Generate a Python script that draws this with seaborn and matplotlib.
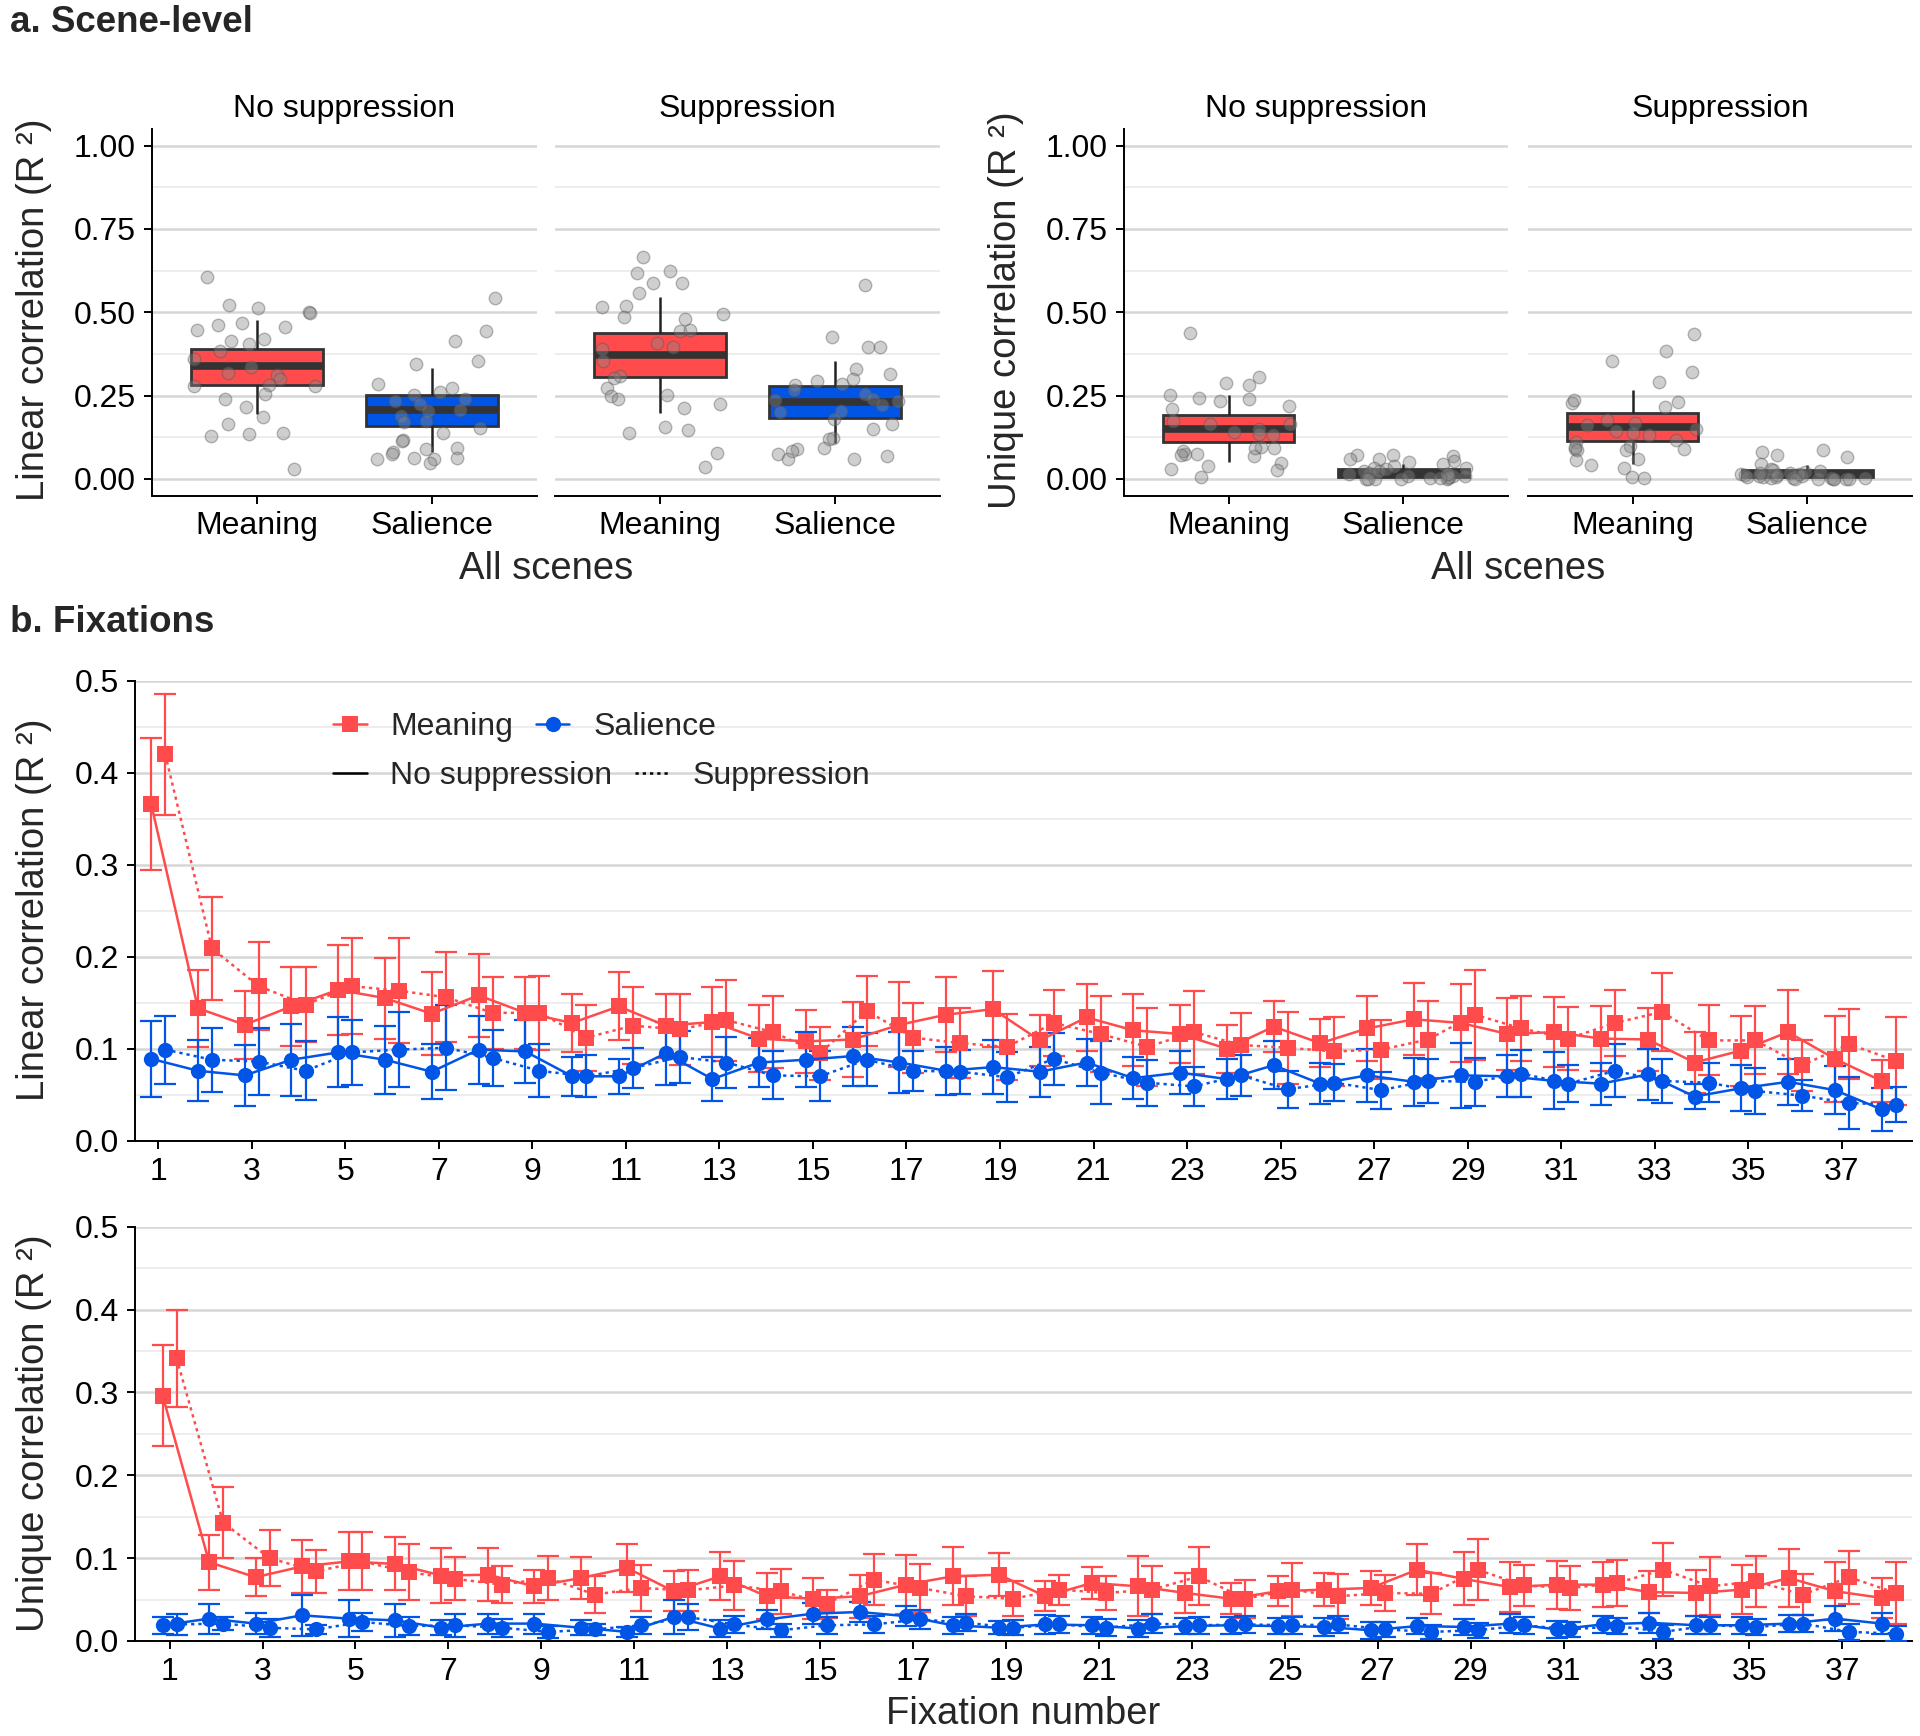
import numpy as np
import pandas as pd
import matplotlib
matplotlib.use("Agg")
import matplotlib.pyplot as plt
from matplotlib.lines import Line2D
import seaborn as sns

sns.set_theme(style="white")
plt.rcParams["font.family"] = ["Liberation Sans", "DejaVu Sans"]

RED = "#FF4B4B"
BLUE = "#0055E6"
features = ["Meaning", "Salience"]
conditions = ["No suppression", "Suppression"]

# ---------------- scene-level: box statistics [low whisker, Q1, median, Q3, high whisker]
lin_box_meaning_ns = [0.196, 0.283, 0.338, 0.390, 0.477]
lin_box_salience_ns = [0.081, 0.159, 0.206, 0.253, 0.332]
lin_box_meaning_s = [0.197, 0.307, 0.373, 0.438, 0.547]
lin_box_salience_s = [0.109, 0.184, 0.231, 0.278, 0.355]
uni_box_meaning_ns = [0.051, 0.112, 0.151, 0.191, 0.251]
uni_box_salience_ns = [0.004, 0.007, 0.017, 0.031, 0.044]
uni_box_meaning_s = [0.046, 0.114, 0.157, 0.197, 0.267]
uni_box_salience_s = [0.002, 0.006, 0.016, 0.028, 0.041]

# ---------------- scene-level: individual scene points
lin_meaning_ns_pts = [0.420, 0.455, 0.523, 0.513, 0.500, 0.498, 0.607, 0.463, 0.447, 0.405, 0.360, 0.335, 0.313, 0.317, 0.300,
                      0.283, 0.280, 0.255, 0.241, 0.217, 0.164, 0.137, 0.134, 0.129, 0.186, 0.029, 0.415, 0.385, 0.467, 0.280]
lin_salience_ns_pts = [0.543, 0.413, 0.443, 0.355, 0.345, 0.285, 0.273, 0.262, 0.253, 0.234, 0.224, 0.204, 0.189, 0.172, 0.174,
                       0.154, 0.137, 0.117, 0.114, 0.089, 0.082, 0.074, 0.061, 0.061, 0.049, 0.062, 0.206, 0.239, 0.094, 0.064]
lin_meaning_s_pts = [0.665, 0.587, 0.557, 0.623, 0.617, 0.587, 0.515, 0.520, 0.495, 0.485, 0.480, 0.445, 0.447, 0.407, 0.397,
                     0.390, 0.353, 0.310, 0.302, 0.273, 0.250, 0.253, 0.241, 0.226, 0.214, 0.156, 0.146, 0.139, 0.079, 0.036]
lin_salience_s_pts = [0.583, 0.427, 0.395, 0.397, 0.330, 0.315, 0.300, 0.295, 0.285, 0.282, 0.268, 0.255, 0.239, 0.234, 0.222,
                      0.204, 0.201, 0.179, 0.164, 0.149, 0.122, 0.119, 0.089, 0.084, 0.076, 0.069, 0.061, 0.061, 0.092, 0.236]
uni_meaning_ns_pts = [0.438, 0.305, 0.283, 0.287, 0.244, 0.239, 0.219, 0.234, 0.209, 0.253, 0.174, 0.164, 0.142, 0.131, 0.076,
                      0.074, 0.069, 0.049, 0.039, 0.029, 0.026, 0.006, 0.097, 0.084, 0.092, 0.094, 0.149, 0.166, 0.134, 0.072]
uni_salience_ns_pts = [0.061, 0.072, 0.069, 0.072, 0.054, 0.044, 0.034, 0.029, 0.024, 0.019, 0.014, 0.009, 0.004, 0.000, 0.001,
                       0.004, 0.009, 0.014, 0.000, 0.001, 0.006, 0.024, 0.032, 0.039, 0.052, 0.059, 0.016, 0.010, 0.002, 0.000]
uni_meaning_s_pts = [0.435, 0.383, 0.355, 0.320, 0.290, 0.231, 0.229, 0.236, 0.216, 0.176, 0.169, 0.162, 0.149, 0.137, 0.116,
                     0.112, 0.099, 0.089, 0.091, 0.087, 0.097, 0.086, 0.061, 0.056, 0.041, 0.034, 0.006, 0.004, 0.131, 0.144]
uni_salience_s_pts = [0.087, 0.082, 0.072, 0.066, 0.044, 0.031, 0.026, 0.022, 0.016, 0.012, 0.009, 0.006, 0.002, 0.000, 0.000,
                      0.001, 0.004, 0.007, 0.014, 0.019, 0.024, 0.009, 0.002, 0.000, 0.005, 0.000, 0.003, 0.013, 0.017, 0.000]

# ---------------- fixations
fixation = list(range(1, 39))
fix_tick_labels = [str(i) for i in range(1, 38, 2)]

lin_meaning_ns = [0.366, 0.144, 0.126, 0.146, 0.164, 0.155, 0.138, 0.158, 0.139, 0.128, 0.146, 0.125, 0.129, 0.111, 0.108,
                  0.110, 0.126, 0.137, 0.143, 0.109, 0.134, 0.120, 0.116, 0.100, 0.124, 0.106, 0.122, 0.132, 0.128, 0.116,
                  0.118, 0.111, 0.110, 0.085, 0.098, 0.118, 0.089, 0.065]
lin_meaning_ns_err = [0.072, 0.042, 0.037, 0.043, 0.049, 0.044, 0.045, 0.045, 0.039, 0.032, 0.037, 0.035, 0.038, 0.036, 0.034,
                      0.041, 0.046, 0.041, 0.041, 0.028, 0.036, 0.039, 0.031, 0.026, 0.028, 0.026, 0.035, 0.039, 0.042, 0.039,
                      0.038, 0.035, 0.034, 0.033, 0.038, 0.046, 0.047, 0.023]
lin_meaning_s = [0.420, 0.209, 0.168, 0.148, 0.168, 0.163, 0.156, 0.139, 0.139, 0.112, 0.125, 0.121, 0.131, 0.118, 0.095,
                 0.141, 0.112, 0.106, 0.102, 0.128, 0.116, 0.102, 0.118, 0.104, 0.101, 0.097, 0.099, 0.110, 0.137, 0.122,
                 0.111, 0.128, 0.140, 0.109, 0.109, 0.082, 0.105, 0.087]
lin_meaning_s_err = [0.066, 0.056, 0.048, 0.041, 0.052, 0.057, 0.049, 0.039, 0.040, 0.036, 0.042, 0.039, 0.044, 0.039, 0.029,
                     0.038, 0.038, 0.038, 0.036, 0.036, 0.041, 0.042, 0.045, 0.035, 0.039, 0.037, 0.032, 0.042, 0.049, 0.035,
                     0.034, 0.036, 0.042, 0.038, 0.037, 0.028, 0.038, 0.048]
lin_salience_ns = [0.089, 0.076, 0.071, 0.088, 0.096, 0.088, 0.075, 0.099, 0.097, 0.070, 0.070, 0.095, 0.067, 0.085, 0.088,
                   0.092, 0.085, 0.076, 0.080, 0.075, 0.085, 0.068, 0.074, 0.067, 0.082, 0.062, 0.071, 0.064, 0.071, 0.070,
                   0.065, 0.062, 0.072, 0.048, 0.057, 0.064, 0.055, 0.034]
lin_salience_ns_err = [0.041, 0.033, 0.033, 0.039, 0.038, 0.037, 0.030, 0.037, 0.034, 0.021, 0.019, 0.034, 0.024, 0.027, 0.030,
                       0.032, 0.033, 0.026, 0.029, 0.027, 0.026, 0.023, 0.023, 0.022, 0.026, 0.022, 0.029, 0.026, 0.035, 0.023,
                       0.031, 0.023, 0.028, 0.014, 0.025, 0.025, 0.026, 0.023]
lin_salience_s = [0.099, 0.088, 0.086, 0.076, 0.096, 0.099, 0.101, 0.090, 0.076, 0.070, 0.079, 0.091, 0.085, 0.071, 0.070,
                  0.088, 0.076, 0.075, 0.069, 0.089, 0.074, 0.063, 0.059, 0.071, 0.056, 0.063, 0.055, 0.065, 0.064, 0.073,
                  0.062, 0.076, 0.065, 0.063, 0.054, 0.049, 0.041, 0.039]
lin_salience_s_err = [0.037, 0.035, 0.036, 0.032, 0.035, 0.041, 0.046, 0.030, 0.029, 0.023, 0.022, 0.028, 0.028, 0.026, 0.027,
                      0.029, 0.022, 0.024, 0.027, 0.028, 0.034, 0.025, 0.021, 0.022, 0.020, 0.020, 0.020, 0.024, 0.026, 0.026,
                      0.020, 0.029, 0.024, 0.021, 0.025, 0.017, 0.028, 0.019]

uni_meaning_ns = [0.296, 0.095, 0.077, 0.090, 0.096, 0.093, 0.079, 0.080, 0.066, 0.076, 0.088, 0.060, 0.078, 0.054, 0.051,
                  0.054, 0.068, 0.078, 0.080, 0.054, 0.070, 0.066, 0.058, 0.051, 0.060, 0.062, 0.064, 0.086, 0.075, 0.065,
                  0.068, 0.068, 0.059, 0.058, 0.062, 0.076, 0.060, 0.052]
uni_meaning_ns_err = [0.061, 0.033, 0.023, 0.032, 0.035, 0.032, 0.033, 0.032, 0.020, 0.025, 0.029, 0.024, 0.029, 0.028, 0.025,
                      0.026, 0.036, 0.035, 0.026, 0.018, 0.019, 0.036, 0.024, 0.019, 0.018, 0.020, 0.021, 0.031, 0.032, 0.030,
                      0.029, 0.027, 0.025, 0.028, 0.030, 0.035, 0.035, 0.024]
uni_meaning_s = [0.341, 0.143, 0.100, 0.084, 0.096, 0.083, 0.075, 0.068, 0.076, 0.056, 0.064, 0.061, 0.067, 0.060, 0.045,
                 0.074, 0.064, 0.054, 0.051, 0.062, 0.058, 0.062, 0.078, 0.051, 0.062, 0.054, 0.058, 0.057, 0.086, 0.067,
                 0.064, 0.070, 0.086, 0.066, 0.072, 0.056, 0.077, 0.058]
uni_meaning_s_err = [0.058, 0.043, 0.034, 0.026, 0.035, 0.034, 0.026, 0.022, 0.026, 0.022, 0.028, 0.025, 0.030, 0.027, 0.017,
                     0.031, 0.029, 0.024, 0.021, 0.018, 0.020, 0.029, 0.035, 0.023, 0.032, 0.027, 0.022, 0.025, 0.037, 0.025,
                     0.027, 0.028, 0.032, 0.035, 0.031, 0.025, 0.032, 0.037]
uni_salience_ns = [0.019, 0.027, 0.021, 0.031, 0.027, 0.025, 0.016, 0.021, 0.021, 0.016, 0.011, 0.029, 0.015, 0.026, 0.033,
                   0.035, 0.030, 0.019, 0.016, 0.020, 0.019, 0.015, 0.018, 0.019, 0.018, 0.017, 0.013, 0.018, 0.017, 0.021,
                   0.014, 0.020, 0.022, 0.019, 0.019, 0.021, 0.027, 0.021]
uni_salience_ns_err = [0.010, 0.018, 0.013, 0.025, 0.022, 0.020, 0.009, 0.012, 0.012, 0.009, 0.006, 0.020, 0.010, 0.012, 0.013,
                       0.012, 0.012, 0.010, 0.008, 0.011, 0.010, 0.010, 0.010, 0.010, 0.010, 0.011, 0.010, 0.010, 0.010, 0.011,
                       0.010, 0.010, 0.012, 0.011, 0.010, 0.010, 0.015, 0.013]
uni_salience_s = [0.020, 0.021, 0.016, 0.014, 0.023, 0.018, 0.019, 0.016, 0.011, 0.014, 0.019, 0.029, 0.020, 0.013, 0.019,
                  0.020, 0.026, 0.022, 0.016, 0.020, 0.016, 0.021, 0.019, 0.020, 0.019, 0.020, 0.014, 0.011, 0.013, 0.019,
                  0.014, 0.018, 0.011, 0.019, 0.017, 0.021, 0.011, 0.009]
uni_salience_s_err = [0.013, 0.008, 0.011, 0.005, 0.011, 0.011, 0.014, 0.011, 0.007, 0.007, 0.010, 0.016, 0.010, 0.008, 0.010,
                      0.010, 0.012, 0.010, 0.009, 0.010, 0.010, 0.011, 0.010, 0.010, 0.010, 0.010, 0.009, 0.008, 0.009, 0.010,
                      0.009, 0.010, 0.008, 0.010, 0.010, 0.010, 0.010, 0.009]

# ---------------- build tables
def scene_frames(boxes, pts):
    brows, prows = [], []
    for (cond, feat), vals in boxes.items():
        for v in vals:
            brows.append(dict(condition=cond, feature=feat, value=v))
    for (cond, feat), vals in pts.items():
        for v in vals:
            prows.append(dict(condition=cond, feature=feat, value=v))
    return pd.DataFrame(brows), pd.DataFrame(prows)

lin_box_df, lin_pts_df = scene_frames(
    {("No suppression", "Meaning"): lin_box_meaning_ns, ("No suppression", "Salience"): lin_box_salience_ns,
     ("Suppression", "Meaning"): lin_box_meaning_s, ("Suppression", "Salience"): lin_box_salience_s},
    {("No suppression", "Meaning"): lin_meaning_ns_pts, ("No suppression", "Salience"): lin_salience_ns_pts,
     ("Suppression", "Meaning"): lin_meaning_s_pts, ("Suppression", "Salience"): lin_salience_s_pts})
uni_box_df, uni_pts_df = scene_frames(
    {("No suppression", "Meaning"): uni_box_meaning_ns, ("No suppression", "Salience"): uni_box_salience_ns,
     ("Suppression", "Meaning"): uni_box_meaning_s, ("Suppression", "Salience"): uni_box_salience_s},
    {("No suppression", "Meaning"): uni_meaning_ns_pts, ("No suppression", "Salience"): uni_salience_ns_pts,
     ("Suppression", "Meaning"): uni_meaning_s_pts, ("Suppression", "Salience"): uni_salience_s_pts})

DODGE = {"No suppression": -0.15, "Suppression": 0.15}

def fix_frame(series):
    rows = []
    for (feat, cond), (vals, errs) in series.items():
        for f, v, e in zip(fixation, vals, errs):
            rows.append(dict(fixation=f, x=f + DODGE[cond], value=v, err=e, feature=feat, condition=cond))
    return pd.DataFrame(rows)

lin_fix_df = fix_frame({("Meaning", "No suppression"): (lin_meaning_ns, lin_meaning_ns_err),
                        ("Meaning", "Suppression"): (lin_meaning_s, lin_meaning_s_err),
                        ("Salience", "No suppression"): (lin_salience_ns, lin_salience_ns_err),
                        ("Salience", "Suppression"): (lin_salience_s, lin_salience_s_err)})
uni_fix_df = fix_frame({("Meaning", "No suppression"): (uni_meaning_ns, uni_meaning_ns_err),
                        ("Meaning", "Suppression"): (uni_meaning_s, uni_meaning_s_err),
                        ("Salience", "No suppression"): (uni_salience_ns, uni_salience_ns_err),
                        ("Salience", "Suppression"): (uni_salience_s, uni_salience_s_err)})

# ---------------- figure
W, H = 1920, 1736
fig = plt.figure(figsize=(W / 100, H / 100), dpi=100)

def rect(x0, x1, y0, y1):
    return [x0 / W, 1 - y1 / H, (x1 - x0) / W, (y1 - y0) / H]

TICK_FS = 23
LAB_FS = 27.5
GRID_MAJ = "#D6D6D6"
GRID_MIN = "#ECECEC"
SP_LW = 1.4
palette = {"Meaning": RED, "Salience": BLUE}
np.random.seed(3)

def style_axes(ax, show_y=True):
    sns.despine(ax=ax, top=True, right=True, left=not show_y)
    for s in ["left", "bottom"]:
        ax.spines[s].set_color("black")
        ax.spines[s].set_linewidth(SP_LW)
    ax.set_axisbelow(True)
    ax.yaxis.grid(True, which="major", color=GRID_MAJ, linewidth=1.8)
    ax.yaxis.grid(True, which="minor", color=GRID_MIN, linewidth=1.3)
    ax.xaxis.grid(False)
    ax.tick_params(axis="both", which="major", direction="out", length=5.5, width=SP_LW,
                   color="black", labelsize=TICK_FS, labelcolor="black", pad=6,
                   bottom=True, left=show_y)
    ax.tick_params(axis="y", which="minor", length=0)
    if not show_y:
        ax.tick_params(axis="y", labelleft=False, left=False)
    ax.set_xlabel("")
    ax.set_ylabel("")

scene_groups = [
    (lin_box_df, lin_pts_df, [(152, 537), (555, 940)], "Linear correlation (R ²)", 34),
    (uni_box_df, uni_pts_df, [(1124, 1508), (1528, 1912)], "Unique correlation (R ²)", 1006),
]
for box_df, pts_df, xr, ylab, ylab_x in scene_groups:
    for i, cond in enumerate(conditions):
        ax = fig.add_axes(rect(xr[i][0], xr[i][1], 129, 495.5))
        bd = box_df[box_df.condition == cond]
        pdf = pts_df[pts_df.condition == cond]
        sns.boxplot(data=bd, x="feature", y="value", hue="feature", order=features, hue_order=features,
                    palette=palette, saturation=1, width=0.75, whis=(0, 100), showfliers=False,
                    showcaps=False, linecolor="#333333", linewidth=2.0, legend=False, ax=ax,
                    medianprops=dict(color="#333333", linewidth=5.5),
                    whiskerprops=dict(color="#222222", linewidth=1.8))
        sns.stripplot(data=pdf, x="feature", y="value", order=features, color="#888888", alpha=0.4,
                      jitter=0.38, size=9, linewidth=1.0, edgecolor="#555555", ax=ax, zorder=5)
        ax.set_xlim(-0.6, 1.6)
        ax.set_ylim(-0.05, 1.05)
        ax.set_yticks([0, 0.25, 0.5, 0.75, 1.0])
        ax.set_yticklabels(["0.00", "0.25", "0.50", "0.75", "1.00"])
        ax.set_yticks([0.125, 0.375, 0.625, 0.875], minor=True)
        style_axes(ax, show_y=(i == 0))
        ax.set_title(cond, fontsize=TICK_FS, color="black", pad=9)
    fig.text((xr[0][0] + xr[1][1]) / 2 / W, 1 - 569 / H, "All scenes", fontsize=LAB_FS,
             ha="center", va="center")
    fig.text(ylab_x / W, 1 - 310 / H, ylab, fontsize=LAB_FS, rotation=90, ha="center", va="center")

DOT = (0, (1.3, 1.6))
MS = 11
series_styles = [
    ("Meaning", "No suppression", RED, "-", "s", MS),
    ("Meaning", "Suppression", RED, DOT, "s", MS),
    ("Salience", "No suppression", BLUE, "-", "o", MS),
    ("Salience", "Suppression", BLUE, DOT, "o", MS),
]

fix_panels = [
    (lin_fix_df, (680.7, 1140.7), (0.5, 38.5), "Linear correlation (R ²)", 910),
    (uni_fix_df, (1226.7, 1641), (0.25, 38.5), "Unique correlation (R ²)", 1433),
]
fix_axes = []
for df, (y0, y1), xlim, ylab, ylab_y in fix_panels:
    ax = fig.add_axes(rect(134.8, 1912, y0, y1))
    fix_axes.append(ax)
    for feat, cond, col, ls, mk, ms in series_styles:
        d = df[(df.feature == feat) & (df.condition == cond)]
        ax.errorbar(d["x"], d["value"], yerr=d["err"], fmt="none", ecolor=col, elinewidth=1.6,
                    capsize=8, capthick=1.6, zorder=3)
        sns.lineplot(data=d, x="x", y="value", color=col, linestyle=ls, linewidth=1.8, marker=mk,
                     markersize=ms, markeredgewidth=0, markeredgecolor=col, errorbar=None,
                     sort=False, legend=False, ax=ax, zorder=4)
    ax.set_xlim(*xlim)
    ax.set_ylim(0, 0.5)
    ax.set_xticks(list(range(1, 38, 2)))
    ax.set_xticklabels(fix_tick_labels)
    ax.set_yticks([0, 0.1, 0.2, 0.3, 0.4, 0.5])
    ax.set_yticklabels(["0.0", "0.1", "0.2", "0.3", "0.4", "0.5"])
    ax.set_yticks([0.05, 0.15, 0.25, 0.35, 0.45], minor=True)
    style_axes(ax, show_y=True)
    fig.text(34 / W, 1 - ylab_y / H, ylab, fontsize=LAB_FS, rotation=90, ha="center", va="center")

fig.text(0.5 * (134.8 + 1912) / W, 1 - 1714 / H, "Fixation number", fontsize=LAB_FS,
         ha="center", va="center")

# legends
ax0 = fix_axes[0]
h_feat = [Line2D([], [], color=RED, marker="s", markersize=MS, linewidth=1.8, markeredgewidth=0),
          Line2D([], [], color=BLUE, marker="o", markersize=MS, linewidth=1.8, markeredgewidth=0)]
h_cond = [Line2D([], [], color="black", linestyle="-", linewidth=1.8),
          Line2D([], [], color="black", linestyle=DOT, linewidth=1.8)]
leg1 = ax0.legend(h_feat, features, loc="center left", bbox_to_anchor=(333 / W, 1 - 727 / H),
                  bbox_transform=fig.transFigure, ncol=2, frameon=False, fontsize=TICK_FS,
                  handlelength=1.05, handletextpad=0.75, columnspacing=0.7, borderpad=0, borderaxespad=0)
ax0.add_artist(leg1)
ax0.legend(h_cond, conditions, loc="center left", bbox_to_anchor=(333 / W, 1 - 776 / H),
           bbox_transform=fig.transFigure, ncol=2, frameon=False, fontsize=TICK_FS,
           handlelength=1.05, handletextpad=0.75, columnspacing=0.7, borderpad=0, borderaxespad=0)

fig.text(10 / W, 1 - 22 / H, "a. Scene-level", fontsize=26.5, fontweight="bold", ha="left", va="center")
fig.text(10 / W, 1 - 622 / H, "b. Fixations", fontsize=26.5, fontweight="bold", ha="left", va="center")

fig.savefig("out.png", dpi=100)
